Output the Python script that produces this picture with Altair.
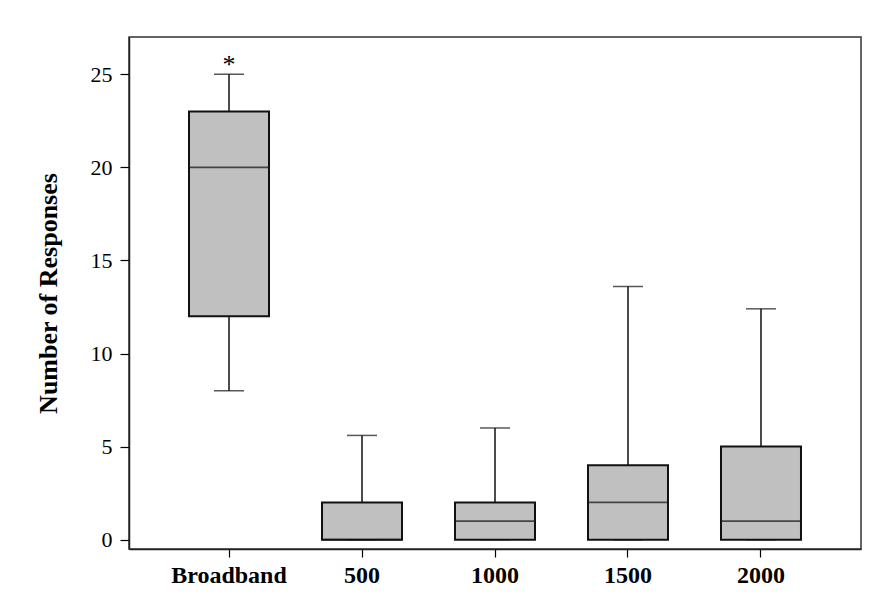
import altair as alt
import pandas as pd

groups = ["Broadband", "500", "1000", "1500", "2000"]
whisker_low = [8, 0, 0, 0, 0]
q1 = [12, 0, 0, 0, 0]
median = [20, 0, 1, 2, 1]
q3 = [23, 2, 2, 4, 5]
whisker_high = [25, 5.6, 6.0, 13.6, 12.4]
marker_group = ["Broadband"]
marker_value = [25]
marker_text = ["*"]

df = pd.DataFrame({
    "group": groups,
    "low": whisker_low,
    "q1": q1,
    "median": median,
    "q3": q3,
    "high": whisker_high,
})
mk = pd.DataFrame({"group": marker_group, "value": marker_value, "label": marker_text})

W, H = 732, 512
FONT = "Liberation Serif"

xscale = alt.Scale(domain=groups, paddingInner=0, paddingOuter=0.252)
yscale = alt.Scale(domain=[-0.5, 27], nice=False, zero=False)

xenc = alt.X("group:N", scale=xscale, sort=groups, title=None,
             axis=alt.Axis(labelAngle=0, labelFont=FONT, labelFontWeight="bold",
                           labelFontSize=24, labelColor="black", labelPadding=6,
                           tickSize=8, tickColor="black", tickWidth=1.2,
                           domainColor="#222222", domainWidth=1.5, grid=False))
yaxis = alt.Axis(values=[0, 5, 10, 15, 20, 25], labelFont=FONT, labelFontSize=22,
                 labelColor="black", labelPadding=8, tickSize=9, tickColor="black",
                 tickWidth=1.2, domainColor="#222222", domainWidth=1.5, grid=False,
                 title="Number of Responses", titleFont=FONT, titleFontSize=26,
                 titleFontWeight="bold", titleColor="black", titlePadding=29)

base = alt.Chart(df)

whisker = base.mark_rule(color="#111111", strokeWidth=1.5).encode(
    x=xenc,
    y=alt.Y("low:Q", scale=yscale, axis=yaxis),
    y2="high:Q",
)
cap_low = base.mark_tick(color="#111111", size=30, thickness=1.5).encode(
    x=xenc, y=alt.Y("low:Q", scale=yscale))
cap_high = base.mark_tick(color="#111111", size=30, thickness=1.5).encode(
    x=xenc, y=alt.Y("high:Q", scale=yscale))
box = base.mark_bar(size=80, fill="#c0c0c0", stroke="#111111", strokeWidth=2).encode(
    x=xenc, y=alt.Y("q1:Q", scale=yscale), y2="q3:Q")
med = base.mark_tick(color="#111111", size=80, thickness=1.8).encode(
    x=xenc, y=alt.Y("median:Q", scale=yscale))
star = alt.Chart(mk).mark_text(font=FONT, fontSize=26, color="black", dy=-9,
                               baseline="middle").encode(
    x=alt.X("group:N", scale=xscale, sort=groups),
    y=alt.Y("value:Q", scale=yscale),
    text="label:N",
)

chart = alt.layer(whisker, cap_low, cap_high, box, med, star).properties(
    width=W, height=H,
    autosize=alt.AutoSizeParams(type="none"),
    padding={"left": 121, "top": 29, "right": 12, "bottom": 50},
    background="white",
).configure_view(stroke="#333333", strokeWidth=1.5)

chart.save("out.html", embed_options={"renderer": "svg", "actions": False})
